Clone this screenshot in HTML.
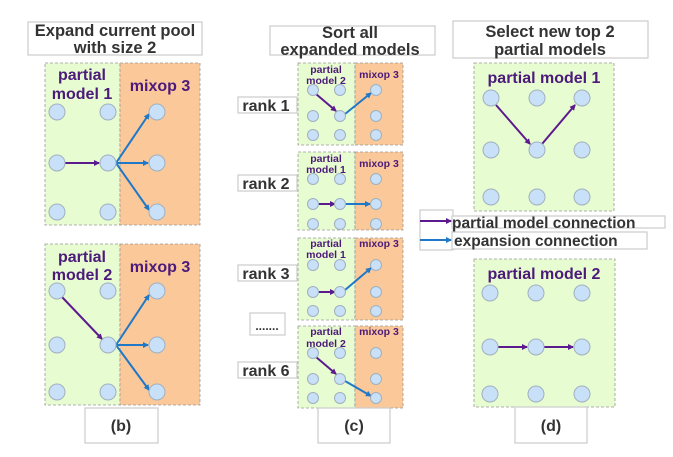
<!DOCTYPE html>
<html><head><meta charset="utf-8"><style>
html,body{margin:0;padding:0;background:#fff;}
svg{display:block;font-family:"Liberation Sans","DejaVu Sans",sans-serif;}
.t{fill:#333;font-weight:bold;}
.p{fill:#4b1a7a;font-weight:bold;}
.n{fill:#c8e0f8;stroke:#a0b0c0;stroke-width:1;}
.g{fill:#e7fcd0;stroke:#999;stroke-width:0.8;stroke-dasharray:3,2;}
.o{fill:#fbc899;stroke:#999;stroke-width:0.8;stroke-dasharray:3,2;}
.bx{fill:#fff;stroke:#ccc;stroke-width:1.2;}
.pe{stroke:#5b1a8e;stroke-width:2;marker-end:url(#ap);}
.be{stroke:#1f78c8;stroke-width:2;marker-end:url(#ab);}
</style></head><body>
<svg width="673" height="457" viewBox="0 0 673 457">
<defs>
<marker id="ap" markerWidth="6" markerHeight="6" refX="5" refY="3" orient="auto" markerUnits="userSpaceOnUse"><path d="M0,0 L6,3 L0,6z" fill="#5b1a8e"/></marker>
<marker id="ab" markerWidth="6" markerHeight="6" refX="5" refY="3" orient="auto" markerUnits="userSpaceOnUse"><path d="M0,0 L6,3 L0,6z" fill="#1f78c8"/></marker>
</defs>

<!-- Panel b -->
<rect class="bx" x="28" y="22" width="174" height="33"/>
<text class="t" x="115" y="36" font-size="16.5" text-anchor="middle">Expand current pool</text>
<text class="t" x="115" y="53" font-size="16.5" text-anchor="middle">with size 2</text>

<rect class="g" x="45" y="63" width="75" height="162"/>
<rect class="o" x="120" y="63" width="80" height="162"/>
<text class="p" x="82" y="80" font-size="16" text-anchor="middle">partial</text>
<text class="p" x="82" y="99" font-size="16" text-anchor="middle">model 1</text>
<text class="p" x="160" y="91" font-size="16" text-anchor="middle">mixop 3</text>
<line class="pe" x1="65" y1="163" x2="99" y2="163"/>
<line class="be" x1="116" y1="163" x2="149" y2="114"/>
<line class="be" x1="116" y1="163" x2="148" y2="163"/>
<line class="be" x1="116" y1="163" x2="149" y2="210"/>
<circle class="n" cx="57" cy="112" r="8"/><circle class="n" cx="108" cy="112" r="8"/><circle class="n" cx="157" cy="112" r="8"/>
<circle class="n" cx="57" cy="163" r="8"/><circle class="n" cx="108" cy="163" r="8"/><circle class="n" cx="157" cy="163" r="8"/>
<circle class="n" cx="57" cy="212" r="8"/><circle class="n" cx="108" cy="212" r="8"/><circle class="n" cx="157" cy="212" r="8"/>

<rect class="g" x="45" y="244" width="75" height="161"/>
<rect class="o" x="120" y="244" width="80" height="161"/>
<text class="p" x="82" y="262" font-size="16" text-anchor="middle">partial</text>
<text class="p" x="82" y="280" font-size="16" text-anchor="middle">model 2</text>
<text class="p" x="160" y="272" font-size="16" text-anchor="middle">mixop 3</text>
<line class="pe" x1="62" y1="297" x2="102" y2="339"/>
<line class="be" x1="116" y1="345" x2="149" y2="295"/>
<line class="be" x1="116" y1="345" x2="148" y2="345"/>
<line class="be" x1="116" y1="345" x2="149" y2="390"/>
<circle class="n" cx="57" cy="291" r="8"/><circle class="n" cx="108" cy="291" r="8"/><circle class="n" cx="157" cy="291" r="8"/>
<circle class="n" cx="57" cy="345" r="8"/><circle class="n" cx="108" cy="345" r="8"/><circle class="n" cx="157" cy="345" r="8"/>
<circle class="n" cx="57" cy="392" r="8"/><circle class="n" cx="108" cy="392" r="8"/><circle class="n" cx="157" cy="392" r="8"/>

<rect class="bx" x="85" y="408" width="73" height="35"/>
<text class="t" x="121" y="431" font-size="16" text-anchor="middle">(b)</text>

<!-- Panel c -->
<rect class="bx" x="270" y="26" width="165" height="29"/>
<text class="t" x="350" y="38" font-size="16.5" text-anchor="middle">Sort all</text>
<text class="t" x="350" y="55" font-size="16.5" text-anchor="middle">expanded models</text>

<!-- rank 1 -->
<rect class="g" x="298" y="63" width="57" height="82"/><rect class="o" x="355" y="63" width="48" height="82"/>
<text class="p" x="326" y="73" font-size="10.5" text-anchor="middle">partial</text>
<text class="p" x="326" y="84" font-size="10.5" text-anchor="middle">model 2</text>
<text class="p" x="379" y="78" font-size="10.5" text-anchor="middle">mixop 3</text>
<line class="pe" x1="316" y1="94" x2="336" y2="111"/>
<line class="be" x1="345" y1="114" x2="371" y2="93"/>
<circle class="n" cx="313" cy="90" r="5.5"/><circle class="n" cx="340" cy="90" r="5.5"/><circle class="n" cx="376" cy="90" r="5.5"/>
<circle class="n" cx="313" cy="116" r="5.5"/><circle class="n" cx="340" cy="116" r="5.5"/><circle class="n" cx="376" cy="116" r="5.5"/>
<circle class="n" cx="313" cy="135" r="5.5"/><circle class="n" cx="340" cy="135" r="5.5"/><circle class="n" cx="376" cy="135" r="5.5"/>
<rect class="bx" x="238" y="97" width="59" height="16"/>
<text class="t" x="266" y="111" font-size="16" text-anchor="middle">rank 1</text>

<!-- rank 2 -->
<rect class="g" x="298" y="152" width="57" height="78"/><rect class="o" x="355" y="152" width="48" height="78"/>
<text class="p" x="326" y="162" font-size="10.5" text-anchor="middle">partial</text>
<text class="p" x="326" y="173" font-size="10.5" text-anchor="middle">model 1</text>
<text class="p" x="379" y="167" font-size="10.5" text-anchor="middle">mixop 3</text>
<line class="pe" x1="318" y1="204" x2="335" y2="204"/>
<line class="be" x1="345" y1="204" x2="370" y2="204"/>
<circle class="n" cx="313" cy="179" r="5.5"/><circle class="n" cx="340" cy="179" r="5.5"/><circle class="n" cx="376" cy="179" r="5.5"/>
<circle class="n" cx="313" cy="204" r="5.5"/><circle class="n" cx="340" cy="204" r="5.5"/><circle class="n" cx="376" cy="204" r="5.5"/>
<circle class="n" cx="313" cy="224" r="5.5"/><circle class="n" cx="340" cy="224" r="5.5"/><circle class="n" cx="376" cy="224" r="5.5"/>
<rect class="bx" x="238" y="175" width="59" height="16"/>
<text class="t" x="266" y="189" font-size="16" text-anchor="middle">rank 2</text>

<!-- rank 3 -->
<rect class="g" x="298" y="238" width="57" height="82"/><rect class="o" x="355" y="238" width="48" height="82"/>
<text class="p" x="326" y="247" font-size="10.5" text-anchor="middle">partial</text>
<text class="p" x="326" y="258" font-size="10.5" text-anchor="middle">model 1</text>
<text class="p" x="379" y="247" font-size="10.5" text-anchor="middle">mixop 3</text>
<line class="pe" x1="318" y1="292" x2="335" y2="292"/>
<line class="be" x1="345" y1="290" x2="371" y2="268"/>
<circle class="n" cx="313" cy="265" r="5.5"/><circle class="n" cx="340" cy="265" r="5.5"/><circle class="n" cx="376" cy="265" r="5.5"/>
<circle class="n" cx="313" cy="292" r="5.5"/><circle class="n" cx="340" cy="292" r="5.5"/><circle class="n" cx="376" cy="292" r="5.5"/>
<circle class="n" cx="313" cy="311" r="5.5"/><circle class="n" cx="340" cy="311" r="5.5"/><circle class="n" cx="376" cy="311" r="5.5"/>
<rect class="bx" x="238" y="265" width="59" height="16"/>
<text class="t" x="266" y="279" font-size="16" text-anchor="middle">rank 3</text>

<rect class="bx" x="250" y="313" width="35" height="22"/>
<text class="t" x="267" y="330" font-size="12" text-anchor="middle">.......</text>

<!-- rank 6 -->
<rect class="g" x="298" y="326" width="57" height="82"/><rect class="o" x="355" y="326" width="48" height="82"/>
<text class="p" x="326" y="335" font-size="10.5" text-anchor="middle">partial</text>
<text class="p" x="326" y="347" font-size="10.5" text-anchor="middle">model 2</text>
<text class="p" x="379" y="335" font-size="10.5" text-anchor="middle">mixop 3</text>
<line class="pe" x1="316" y1="357" x2="336" y2="374"/>
<line class="be" x1="345" y1="381" x2="371" y2="396"/>
<circle class="n" cx="313" cy="353" r="5.5"/><circle class="n" cx="340" cy="353" r="5.5"/><circle class="n" cx="376" cy="353" r="5.5"/>
<circle class="n" cx="313" cy="379" r="5.5"/><circle class="n" cx="340" cy="379" r="5.5"/><circle class="n" cx="376" cy="379" r="5.5"/>
<circle class="n" cx="313" cy="398" r="5.5"/><circle class="n" cx="340" cy="398" r="5.5"/><circle class="n" cx="376" cy="398" r="5.5"/>
<rect class="bx" x="238" y="362" width="59" height="16"/>
<text class="t" x="266" y="376" font-size="16" text-anchor="middle">rank 6</text>

<rect class="bx" x="318" y="408" width="72" height="35"/>
<text class="t" x="354" y="431" font-size="16" text-anchor="middle">(c)</text>

<!-- Panel d -->
<rect class="bx" x="453" y="21" width="195" height="37"/>
<text class="t" x="550" y="37" font-size="16.5" text-anchor="middle">Select new top 2</text>
<text class="t" x="550" y="55" font-size="16.5" text-anchor="middle">partial models</text>

<rect class="g" x="474" y="63" width="140" height="148"/>
<text class="p" x="544" y="83" font-size="16" text-anchor="middle">partial model 1</text>
<line class="pe" x1="496" y1="105" x2="530" y2="144"/>
<line class="pe" x1="542" y1="144" x2="575" y2="105"/>
<circle class="n" cx="491" cy="98" r="8"/><circle class="n" cx="537" cy="98" r="8"/><circle class="n" cx="582" cy="98" r="8"/>
<circle class="n" cx="491" cy="150" r="8"/><circle class="n" cx="537" cy="150" r="8"/><circle class="n" cx="582" cy="150" r="8"/>
<circle class="n" cx="491" cy="197" r="8"/><circle class="n" cx="537" cy="197" r="8"/><circle class="n" cx="582" cy="197" r="8"/>

<rect class="g" x="474" y="259" width="141" height="148"/>
<text class="p" x="544" y="279" font-size="16" text-anchor="middle">partial model 2</text>
<line class="pe" x1="498" y1="347" x2="527" y2="347"/>
<line class="pe" x1="544" y1="347" x2="573" y2="347"/>
<circle class="n" cx="490" cy="293" r="8"/><circle class="n" cx="536" cy="293" r="8"/><circle class="n" cx="582" cy="293" r="8"/>
<circle class="n" cx="490" cy="347" r="8"/><circle class="n" cx="536" cy="347" r="8"/><circle class="n" cx="582" cy="347" r="8"/>
<circle class="n" cx="490" cy="394" r="8"/><circle class="n" cx="536" cy="394" r="8"/><circle class="n" cx="582" cy="394" r="8"/>

<rect class="bx" x="515" y="407" width="72" height="36"/>
<text class="t" x="551" y="431" font-size="16" text-anchor="middle">(d)</text>

<!-- Legend -->
<rect class="bx" x="420" y="210" width="33" height="40"/>
<rect class="bx" x="452" y="216" width="213" height="12"/>
<rect class="bx" x="452" y="232" width="195" height="17"/>
<line class="pe" x1="420" y1="221" x2="451" y2="221"/>
<line class="be" x1="420" y1="240" x2="451" y2="240"/>
<text class="t" x="452" y="228" font-size="15.5">partial model connection</text>
<text class="t" x="454" y="246" font-size="15.5">expansion connection</text>
</svg>
</body></html>
